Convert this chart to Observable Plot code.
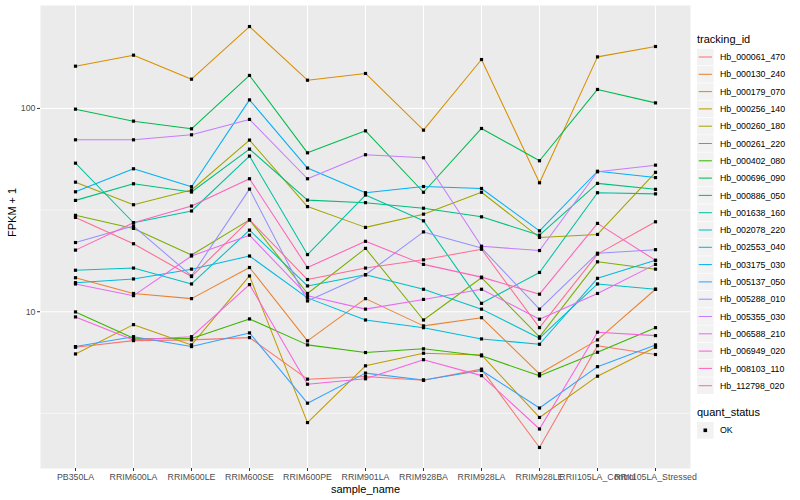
<!DOCTYPE html>
<html>
<head>
<meta charset="utf-8">
<script src="https://cdn.jsdelivr.net/npm/d3@7"></script>
<script src="https://cdn.jsdelivr.net/npm/@observablehq/plot@0.6"></script>
<style>
  body { margin: 0; background: #fff; }
  #chart { position: relative; width: 800px; height: 500px; }
</style>
</head>
<body>
<div id="chart"></div>
<script>
// ---- categories ----
const samples = ["PB350LA","RRIM600LA","RRIM600LE","RRIM600SE","RRIM600PE","RRIM901LA","RRIM928BA","RRIM928LA","RRIM928LE","RRII105LA_Control","RRII105LA_Stressed"];
const trackingIds = ["Hb_000061_470","Hb_000130_240","Hb_000179_070","Hb_000256_140","Hb_000260_180","Hb_000261_220","Hb_000402_080","Hb_000696_090","Hb_000886_050","Hb_001638_160","Hb_002078_220","Hb_002553_040","Hb_003175_030","Hb_005137_050","Hb_005288_010","Hb_005355_030","Hb_006588_210","Hb_006949_020","Hb_008103_110","Hb_112798_020"];
const palette = ["#F8766D","#EA8331","#D89000","#C09B00","#A3A500","#7CAE00","#39B600","#00BB4E","#00BF7D","#00C1A3","#00BFC4","#00BAE0","#00B0F6","#35A2FF","#9590FF","#C77CFF","#E76BF3","#FA62DB","#FF62BC","#FF6C91"];
const yTicks = [10, 100];

// ---- FPKM + 1 values, one array per tracking_id (in sample order) ----
const hb_000061_470 = [6.69, 7.21, 7.27, 7.46, 4.66, 4.80, 4.60, 5.22, 2.15, 6.81, 6.16];
const hb_000130_240 = [14.7, 12.3, 11.6, 16.5, 7.19, 11.6, 8.52, 9.35, 4.95, 7.27, 12.9];
const hb_000179_070 = [161.4, 182.8, 139.3, 252.9, 137.7, 148.6, 78.2, 174.0, 43.1, 179.3, 201.7];
const hb_000256_140 = [6.20, 8.64, 6.87, 15.0, 2.85, 5.42, 6.25, 6.13, 3.02, 4.82, 6.69];
const hb_000260_180 = [43.4, 33.6, 39.7, 69.9, 32.9, 26.0, 30.2, 38.7, 23.2, 24.0, 48.5];
const hb_000261_220 = [29.8, 25.7, 19.0, 28.3, 12.3, 20.5, 9.11, 14.7, 7.52, 17.6, 16.2];
const hb_000402_080 = [9.98, 7.41, 7.38, 9.22, 6.87, 6.30, 6.57, 6.07, 4.84, 6.32, 8.35];
const hb_000696_090 = [99.2, 86.6, 79.4, 145.3, 60.5, 77.6, 38.7, 79.7, 55.3, 124.0, 106.5];
const hb_000886_050 = [35.3, 42.6, 38.8, 63.1, 35.4, 34.4, 32.3, 29.3, 23.8, 42.8, 40.0];
const hb_001638_160 = [53.8, 27.4, 31.3, 58.3, 19.1, 37.5, 28.0, 11.0, 15.6, 38.5, 38.0];
const hb_002078_220 = [16.0, 16.4, 13.7, 25.2, 13.4, 15.2, 12.9, 10.3, 7.41, 13.7, 12.9];
const hb_002553_040 = [13.9, 14.5, 16.2, 18.8, 11.7, 9.11, 8.35, 7.35, 6.92, 14.6, 17.9];
const hb_003175_030 = [38.9, 50.5, 41.2, 110.2, 50.9, 38.5, 41.3, 40.4, 25.0, 49.1, 45.7];
const hb_005137_050 = [6.74, 7.54, 6.74, 7.87, 3.55, 4.99, 4.62, 5.14, 3.36, 5.37, 6.87];
const hb_005288_010 = [21.9, 26.4, 15.0, 40.1, 11.3, 15.2, 24.7, 20.6, 10.3, 19.4, 20.2];
const hb_005355_030 = [70.1, 70.1, 74.2, 88.3, 45.1, 59.2, 57.2, 21.0, 20.0, 48.8, 52.6];
const hb_006588_210 = [13.7, 12.0, 18.8, 23.8, 12.0, 10.3, 11.5, 12.9, 9.19, 12.3, 17.1];
const hb_006949_020 = [9.43, 7.27, 7.54, 13.6, 4.40, 4.68, 5.81, 4.85, 2.65, 7.93, 7.63];
const hb_008103_110 = [20.1, 27.4, 33.1, 45.1, 16.5, 22.2, 17.1, 14.8, 12.2, 27.2, 17.9];
const hb_112798_020 = [29.1, 21.6, 14.9, 28.3, 14.4, 16.4, 18.0, 20.3, 8.35, 19.2, 27.7];

const seriesValues = [hb_000061_470, hb_000130_240, hb_000179_070, hb_000256_140, hb_000260_180, hb_000261_220, hb_000402_080, hb_000696_090, hb_000886_050, hb_001638_160, hb_002078_220, hb_002553_040, hb_003175_030, hb_005137_050, hb_005288_010, hb_005355_030, hb_006588_210, hb_006949_020, hb_008103_110, hb_112798_020];

const rows = [];
trackingIds.forEach((id, i) => {
  samples.forEach((s, j) => rows.push({tracking_id: id, sample_name: s, fpkm1: seriesValues[i][j], quant_status: "OK"}));
});

const FONT = "'Liberation Sans', Arial, Helvetica, sans-serif";

const plot = Plot.plot({
  width: 800,
  height: 500,
  marginLeft: 40,
  marginRight: 110,
  marginTop: 5,
  marginBottom: 32,
  style: {fontFamily: FONT, fontSize: "9px", background: "white", overflow: "visible"},
  x: {type: "point", domain: samples, padding: 0.6, label: null, tickSize: 3, tickPadding: 2},
  y: {type: "log", domain: [1.694, 320.9], ticks: yTicks, tickFormat: d => String(d), label: null, tickSize: 3, tickPadding: 2},
  color: {domain: trackingIds, range: palette},
  marks: [
    Plot.frame({fill: "#EBEBEB", stroke: null}),
    Plot.ruleY([Math.sqrt(10), Math.sqrt(1000)], {stroke: "white", strokeWidth: 0.55}),
    Plot.ruleY(yTicks, {stroke: "white", strokeWidth: 1.1}),
    Plot.ruleX(samples, {x: d => d, stroke: "white", strokeWidth: 1.1}),
    Plot.line(rows, {x: "sample_name", y: "fpkm1", z: "tracking_id", stroke: "tracking_id", strokeWidth: 1.05}),
    Plot.dot(rows, {x: "sample_name", y: "fpkm1", symbol: "square", r: 1.8, fill: "black", stroke: null}),
    Plot.axisX({tickSize: 3, tickPadding: 2, stroke: "#333333", fill: "#4D4D4D", fontSize: 8.8, label: null}),
    Plot.axisY({ticks: yTicks, tickFormat: d => String(d), tickSize: 3, tickPadding: 2, stroke: "#333333", fill: "#4D4D4D", fontSize: 8.8, label: null}),
    Plot.text(["sample_name"], {frameAnchor: "bottom", dy: 24, fontSize: 11, fill: "black", text: d => d}),
    Plot.text(["FPKM + 1"], {frameAnchor: "left", dx: -28, rotate: -90, fontSize: 11, fill: "black", text: d => d})
  ]
});

document.getElementById("chart").appendChild(plot);

// ---- legend (drawn into the plot's svg, right margin) ----
const svg = d3.select(plot);
const lg = svg.append("g").attr("font-family", FONT).attr("text-anchor", "start");
lg.append("text").attr("x", 697).attr("y", 43).attr("font-size", 11).attr("fill", "black").attr("text-anchor", "start").text("tracking_id");
trackingIds.forEach((id, i) => {
  const cy = 57 + i * 17.3;
  lg.append("rect").attr("x", 697).attr("y", cy - 8.3).attr("width", 16.6).attr("height", 16.6).attr("fill", "#F2F2F2");
  lg.append("line").attr("x1", 698.7).attr("x2", 711.9).attr("y1", cy).attr("y2", cy).attr("stroke", palette[i]).attr("stroke-width", 1.05);
  lg.append("text").attr("x", 720).attr("y", cy + 3.1).attr("font-size", 8.8).attr("fill", "black").attr("text-anchor", "start").text(id);
});
lg.append("text").attr("x", 697).attr("y", 416).attr("font-size", 11).attr("fill", "black").attr("text-anchor", "start").text("quant_status");
lg.append("rect").attr("x", 697).attr("y", 422).attr("width", 16.6).attr("height", 16.6).attr("fill", "#F2F2F2");
lg.append("rect").attr("x", 703.5).attr("y", 428.5).attr("width", 3.6).attr("height", 3.6).attr("fill", "black");
lg.append("text").attr("x", 720).attr("y", 433.4).attr("font-size", 8.8).attr("fill", "black").attr("text-anchor", "start").text("OK");
</script>
</body>
</html>
